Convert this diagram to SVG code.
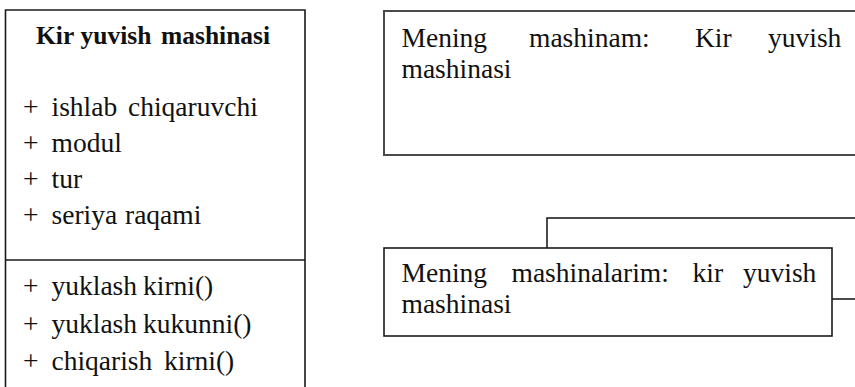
<svg xmlns="http://www.w3.org/2000/svg" width="855" height="387" viewBox="0 0 855 387">
  <style>
    .box { fill: #ffffff; stroke: #1a1a1a; stroke-width: 1.6; }
    .obj { fill: #ffffff; stroke: #4a4a4a; stroke-width: 2; }
    .wire { fill: none; stroke: #111111; stroke-width: 1.5; }
    text { font-family: "Liberation Serif", "Times New Roman", serif; font-size: 27.5px; fill: #111111; }
    .title { font-weight: bold; font-size: 25.5px; }
  </style>
  <rect width="855" height="387" fill="#ffffff"/>

  <!-- class: washing machine -->
  <g id="class-kir-yuvish-mashinasi">
    <path class="box" d="M5.5 400 V10 H305 V400"/>
    <line class="box" x1="5.5" y1="260" x2="305" y2="260"/>
    <text class="title" y="44"><tspan x="36">Kir</tspan><tspan x="80.5">yuvish</tspan><tspan x="161">mashinasi</tspan></text>
    <text y="116"><tspan x="23">+</tspan><tspan x="51.5">ishlab</tspan><tspan x="128">chiqaruvchi</tspan></text>
    <text y="152"><tspan x="23">+</tspan><tspan x="51.5">modul</tspan></text>
    <text y="188"><tspan x="23">+</tspan><tspan x="51.5">tur</tspan></text>
    <text y="223.5"><tspan x="23">+</tspan><tspan x="51.5">seriya</tspan><tspan x="125">raqami</tspan></text>
    <text y="295"><tspan x="23">+</tspan><tspan x="51.5">yuklash</tspan><tspan x="143">kirni()</tspan></text>
    <text y="333"><tspan x="23">+</tspan><tspan x="51.5">yuklash</tspan><tspan x="143">kukunni()</tspan></text>
    <text y="370"><tspan x="23">+</tspan><tspan x="51.5">chiqarish</tspan><tspan x="164">kirni()</tspan></text>
  </g>

  <!-- object: my machine -->
  <g id="obj-mening-mashinam">
    <path class="obj" d="M870 11 H384 V155 H870"/>
    <text y="47"><tspan x="401.5">Mening</tspan><tspan x="529">mashinam:</tspan><tspan x="695">Kir</tspan><tspan x="768">yuvish</tspan></text>
    <text x="401.5" y="78">mashinasi</text>
  </g>

  <!-- connectors -->
  <g id="connectors">
    <path class="wire" d="M547 248 V218 H860"/>
    <path class="wire" d="M832 299 H860"/>
  </g>

  <!-- object: my machines -->
  <g id="obj-mening-mashinalarim">
    <rect class="box" x="384" y="248" width="448" height="88"/>
    <text y="282"><tspan x="401.5">Mening</tspan><tspan x="511.5">mashinalarim:</tspan><tspan x="692.5">kir</tspan><tspan x="743">yuvish</tspan></text>
    <text x="401.5" y="313">mashinasi</text>
  </g>
</svg>
